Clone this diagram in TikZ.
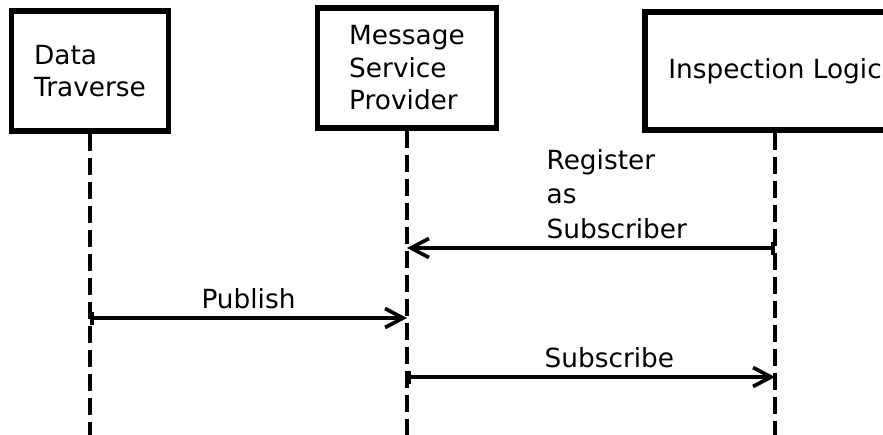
\documentclass[tikz,border=0pt]{standalone}
\usepackage{fontspec}
\setmainfont{DejaVu Sans}
\usetikzlibrary{arrows.meta}

\begin{document}
\begin{tikzpicture}[
		actor/.style={rectangle, draw, line width=3pt, minimum height=2.4cm, align=left,
		font=\fontsize{15}{18.5}\selectfont},
		lifeline/.style={line width=2.5pt, dash pattern=on 0.34cm off 0.14cm},
		msg/.style={line width=2.1pt, {Bar[width=2.6mm]}-{Straight Barb[length=3.6mm,width=3.8mm]}},
		msglabel/.style={font=\fontsize{15}{19.5}\selectfont, align=left}]
		
		\useasboundingbox (0,0) rectangle (17.66,-8.68);
		\clip (0,0) rectangle (17.66,-8.68);
		
		%actors
		\node (Data Traverse) at (1.80,-1.42) [actor, minimum width=3.14cm]{Data\\Traverse};
		\node (Message Provider) at (8.14,-1.36) [actor, minimum width=3.58cm]{Message\\Service\\Provider};
		\node (Inspection Logic) at (15.5,-1.42) [actor, minimum width=5.2cm, minimum height=2.36cm]{Inspection Logic};
		
		%lifeline ends
		\coordinate (Data Traverse end) at (1.80,-8.9);
		\coordinate (Message Provider end) at (8.14,-8.9);
		\coordinate (Inspection Logic end) at (15.5,-8.9);
		
		%lifelines
		\draw[lifeline] (Data Traverse) -- (Data Traverse end);
		\draw[lifeline] (Message Provider) -- (Message Provider end);
		\draw[lifeline] (Inspection Logic) -- (Inspection Logic end);
		
		%message points on the lifelines
		\coordinate (Register IL) at (15.5,-4.96);
		\coordinate (Register MP) at (8.14,-4.96);
		\coordinate (Publish DT) at (1.80,-6.36);
		\coordinate (Publish MP) at (8.14,-6.36);
		\coordinate (Subscribe MP) at (8.14,-7.54);
		\coordinate (Subscribe IL) at (15.5,-7.54);
		
		%messages
		\draw[msg] (Register IL) -- node[msglabel, above=1pt, pos=0.43]{Register\\as\\Subscriber} (Register MP);
		\draw[msg] (Publish DT) -- node[msglabel, above=1pt]{Publish} (Publish MP);
		\draw[msg] (Subscribe MP) -- node[msglabel, above=1pt, pos=0.55]{Subscribe} (Subscribe IL);
		
		\end{tikzpicture}
\end{document}
